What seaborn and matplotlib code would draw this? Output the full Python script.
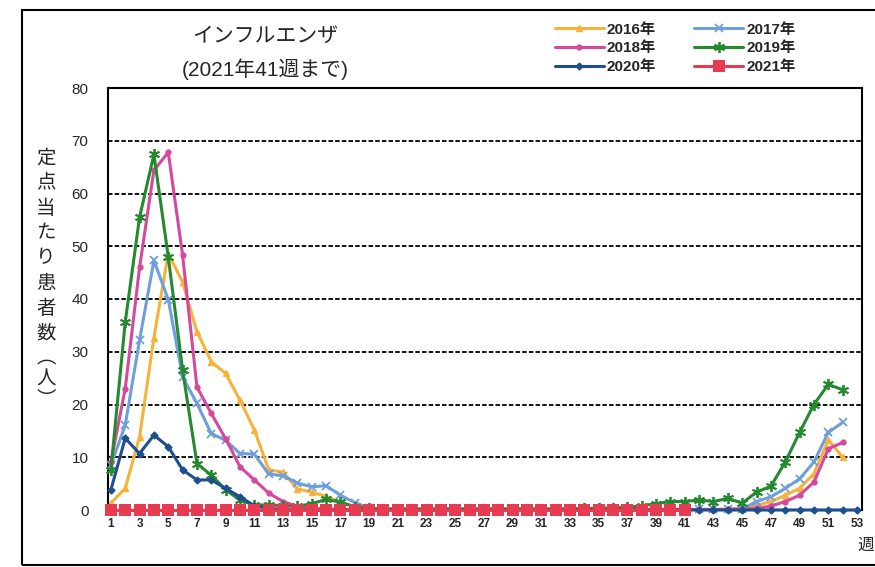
import numpy as np
import pandas as pd
import matplotlib
matplotlib.use("Agg")
import matplotlib.pyplot as plt
from matplotlib.patches import Rectangle
import seaborn as sns

# ---------------- data ----------------
weeks52 = list(range(1, 53))
weeks53 = list(range(1, 54))
weeks41 = list(range(1, 42))

v2016 = [1.3, 4.1, 13.9, 32.7, 48.6, 43.2, 33.8, 28.1, 25.9, 20.8,
         15.2, 7.6, 7.2, 4.0, 3.4, 2.6, 1.5, 0.6, 0.3, 0.1,
         0.1, 0.1, 0.1, 0.1, 0.1, 0.1, 0.1, 0.1, 0.1, 0.1,
         0.1, 0.1, 0.1, 0.1, 0.1, 0.1, 0.1, 0.1, 0.1, 0.1,
         0.1, 0.1, 0.1, 0.2, 0.3, 0.9, 1.6, 2.8, 4.1, 6.9,
         13.3, 10.0]
v2017 = [8.5, 16.1, 32.2, 47.3, 39.9, 25.2, 20.2, 14.5, 13.2, 10.7,
         10.6, 6.8, 6.5, 5.1, 4.4, 4.6, 2.8, 1.4, 0.4, 0.1,
         0.1, 0.1, 0.1, 0.1, 0.1, 0.1, 0.1, 0.1, 0.1, 0.1,
         0.1, 0.1, 0.1, 0.1, 0.1, 0.1, 0.1, 0.1, 0.1, 0.1,
         0.1, 0.1, 0.1, 0.1, 0.2, 1.6, 2.5, 4.1, 5.9, 9.1,
         14.7, 16.6]
v2018 = [9.1, 23.0, 46.0, 64.4, 67.8, 48.3, 23.3, 18.3, 13.5, 8.2,
         5.7, 3.2, 1.6, 0.7, 0.3, 0.2, 0.1, 0.1, 0.1, 0.1,
         0.1, 0.1, 0.1, 0.1, 0.1, 0.1, 0.1, 0.1, 0.1, 0.1,
         0.1, 0.1, 0.1, 0.1, 0.1, 0.1, 0.1, 0.1, 0.1, 0.1,
         0.1, 0.1, 0.1, 0.1, 0.2, 0.3, 0.75, 1.6, 2.8, 5.3,
         11.6, 12.8]
v2019 = [7.6, 35.6, 55.5, 67.4, 48.0, 26.5, 8.8, 6.6, 3.8, 1.9,
         0.9, 1.0, 0.8, 0.7, 1.2, 2.0, 1.5, 0.6, 0.3, 0.2,
         0.2, 0.2, 0.2, 0.2, 0.2, 0.2, 0.2, 0.2, 0.2, 0.2,
         0.2, 0.2, 0.2, 0.3, 0.3, 0.4, 0.5, 0.8, 1.2, 1.6,
         1.6, 1.9, 1.6, 2.2, 1.3, 3.4, 4.5, 9.1, 14.7, 20.0,
         23.8, 22.8]
v2020 = [3.8, 13.6, 10.7, 14.2, 12.0, 7.6, 5.7, 5.7, 4.1, 2.5,
         0.8, 0.3, 0.1, 0.0, 0.0, 0.0, 0.0, 0.0, 0.0, 0.0,
         0.0, 0.0, 0.0, 0.0, 0.0, 0.0, 0.0, 0.0, 0.0, 0.0,
         0.0, 0.0, 0.0, 0.0, 0.0, 0.0, 0.0, 0.0, 0.0, 0.0,
         0.0, 0.0, 0.0, 0.0, 0.0, 0.0, 0.0, 0.0, 0.0, 0.0,
         0.0, 0.0, 0.0]
v2021 = [0.0] * 41

series_labels = ["2016年", "2017年", "2018年", "2019年", "2020年", "2021年"]
y_ticks = [0, 10, 20, 30, 40, 50, 60, 70, 80]
x_ticks = list(range(1, 54, 2))

title1 = "インフルエンザ"
title2 = "(2021年41週まで)"
ylabel = "定点当たり患者数︵人︶"
xlabel = "週"

# ---------------- style ----------------
sns.set_theme(style="white")
plt.rcParams['font.family'] = ['Liberation Sans', 'Noto Sans CJK JP', 'DejaVu Sans']

fig = plt.figure(figsize=(8.75, 5.67), dpi=100)
ax = fig.add_axes([108 / 875, 1 - 510 / 567, (862 - 108) / 875, (510 - 88) / 567])

styles = [
    (weeks52, v2016, "#F7B23B", "^", 4.5, 1.0, 2),
    (weeks52, v2017, "#6F9FDB", "x", 6, 1.3, 3),
    (weeks52, v2018, "#D6489C", "o", 3.5, 1.0, 4),
    (weeks52, v2019, "#24892F", (6, 2, 0), 8, 1.3, 5),
    (weeks53, v2020, "#1E4F8E", "D", 3.5, 1.0, 6),
    (weeks41, v2021, "#E83A50", "s", 8.8, 0.0, 7),
]

handles = {}
for (wk, vals, col, mk, ms, mew, z), lab in zip(styles, series_labels):
    df = pd.DataFrame({"week": wk, "value": vals})
    sns.lineplot(data=df, x="week", y="value", ax=ax, color=col, marker=mk,
                 markersize=ms, markeredgecolor=col, markerfacecolor=col,
                 markeredgewidth=mew, linewidth=2.2, label=lab, zorder=z,
                 clip_on=False, legend=False, errorbar=None)
    handles[lab] = ax.lines[-1]

ax.set_xlim(0.8, 53.35)
ax.set_ylim(0, 80)
ax.set_yticks(y_ticks)
ax.set_xticks(x_ticks)
ax.set_xticklabels([str(t) for t in x_ticks], fontsize=8.5, fontweight="bold",
                   family=['Liberation Sans Narrow', 'Liberation Sans'])
ax.set_yticklabels([str(t) for t in y_ticks], fontsize=11)
ax.tick_params(axis="both", length=0)
ax.tick_params(axis="y", pad=14)
ax.tick_params(axis="x", pad=6)
ax.set_xlabel("")
ax.set_ylabel("")

for y in y_ticks[1:-1]:
    ax.axhline(y, color="black", linestyle=(0, (2.5, 1.2)), linewidth=1.3, zorder=1)

for sp in ax.spines.values():
    sp.set_color("black")
    sp.set_linewidth(1.5)
    sp.set_visible(True)

# legend
order = ["2016年", "2018年", "2020年", "2017年", "2019年", "2021年"]
fig.legend([handles[k] for k in order], order, loc="upper left",
           bbox_to_anchor=(541 / 875, 1 - 9 / 567), ncol=2, frameon=False,
           handlelength=3.2, columnspacing=2.5, labelspacing=0.3,
           handletextpad=0.2, prop={'weight': 'bold', 'size': 11})

# titles
fig.text(265 / 875, 1 - 36 / 567, title1, ha="center", va="center", fontsize=15)
fig.text(265 / 875, 1 - 69 / 567, title2, ha="center", va="center", fontsize=15)

# vertical y label: characters stacked top to bottom (vertical bracket forms)
y_px = 158.0
for ch in ylabel:
    fig.text(46 / 875, 1 - y_px / 567, ch, ha="center", va="center",
             fontsize=14, family=['Noto Sans CJK JP'])
    y_px += 25.0 if ch not in "︵人" else 21.0

fig.text(857 / 875, 1 - 545 / 567, xlabel, ha="left", va="center", fontsize=12)

# outer frame
fig.add_artist(Rectangle((22 / 875, 2 / 567), 1.2, 1 - 12 / 567, transform=fig.transFigure,
                         fill=False, edgecolor="black", linewidth=1.5))

fig.savefig("out.png", dpi=100)
